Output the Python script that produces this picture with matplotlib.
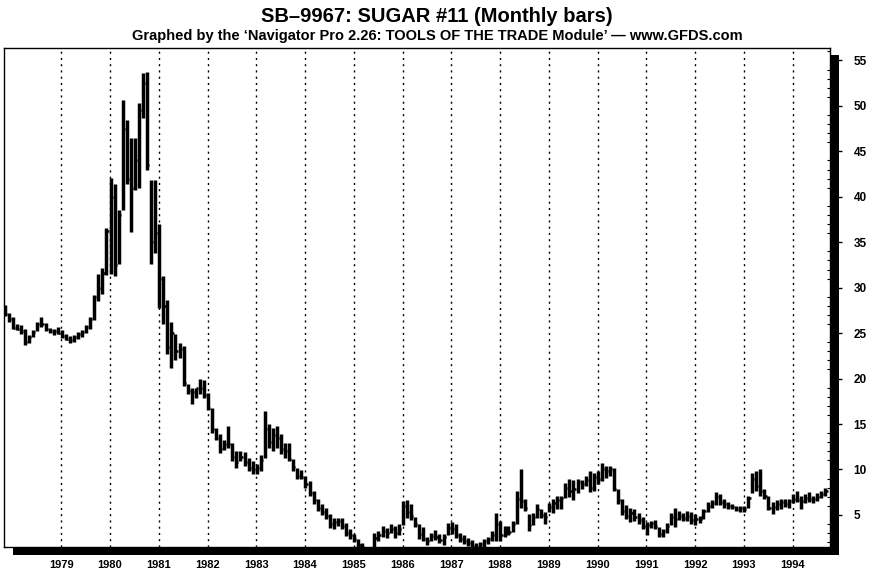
import matplotlib
matplotlib.use("Agg")
import matplotlib.pyplot as plt
import matplotlib.dates as mdates
from matplotlib.patches import Rectangle
import pandas as pd

FONT = ["Liberation Sans", "DejaVu Sans"]

# Monthly bars, Nov 1977 .. Sep 1994
first_month = "1977-11-01"

high = [
    28.1, 27.2, 26.8, 26.0, 25.9, 25.4, 24.8, 25.3, 26.2, 26.8, 26.1, 25.6, 25.5, 25.7,
    25.3, 24.9, 24.7, 24.8, 25.1, 25.3, 25.9, 26.8, 29.2, 31.5, 32.2, 36.6,
    42.1, 41.4, 38.5, 50.6, 48.4, 46.5, 46.5, 50.3, 53.6, 53.7, 41.8, 41.8,
    37.0, 31.3, 28.6, 26.2, 24.9, 23.9, 23.6, 19.4, 19.0, 19.0, 20.0, 19.8,
    18.4, 16.8, 14.6, 13.9, 13.2, 14.8, 12.9, 12.0, 12.0, 11.9, 11.3, 10.9,
    10.6, 11.6, 16.4, 15.0, 14.6, 14.8, 13.9, 12.9, 12.9, 11.1, 10.2, 9.9,
    9.3, 8.7, 7.6, 6.8, 6.2, 5.8, 5.1, 4.7, 4.7, 4.7, 4.1, 3.4,
    2.9, 2.4, 1.9, 1.5, 1.4, 3.0, 3.2, 3.8, 3.6, 4.0, 3.8, 4.0,
    6.5, 6.6, 6.2, 4.8, 4.0, 3.7, 2.6, 3.0, 3.3, 2.9, 2.9, 4.1,
    4.2, 4.0, 3.0, 2.8, 2.5, 2.2, 1.9, 2.0, 2.4, 2.6, 3.2, 5.2,
    4.3, 3.8, 3.8, 4.3, 7.6, 10.0, 6.8, 5.1, 5.2, 6.2, 5.6, 5.3,
    6.3, 6.8, 7.1, 7.1, 8.5, 8.9, 8.8, 8.9, 8.8, 9.3, 9.8, 9.6,
    9.8, 10.7, 10.4, 10.4, 10.2, 7.8, 6.8, 6.1, 5.8, 5.6, 5.2, 4.8,
    4.2, 4.3, 4.4, 3.7, 3.5, 4.1, 5.2, 5.8, 5.4, 5.2, 5.4, 5.3,
    5.1, 4.9, 5.6, 6.4, 6.6, 7.5, 7.3, 6.7, 6.4, 6.2, 6.0, 6.0,
    6.0, 7.1, 9.6, 9.8, 10.0, 7.8, 7.1, 6.4, 6.6, 6.8, 6.8, 6.8,
    7.3, 7.6, 7.1, 7.3, 7.5, 7.1, 7.4, 7.6, 8.0,
]

low = [
    26.9, 26.2, 25.4, 25.3, 24.9, 23.7, 23.9, 24.6, 25.2, 25.7, 25.2, 25.0, 24.8, 24.9,
    24.5, 24.2, 23.9, 24.0, 24.3, 24.6, 25.0, 25.5, 26.4, 28.5, 29.3, 31.4,
    31.5, 31.3, 32.6, 38.5, 41.4, 36.1, 40.7, 41.0, 48.7, 42.9, 32.6, 33.8,
    27.8, 26.0, 22.7, 21.2, 22.0, 22.3, 19.2, 18.3, 17.2, 17.9, 18.3, 17.9,
    16.5, 14.0, 13.2, 11.8, 12.1, 12.4, 10.9, 10.2, 10.9, 10.4, 9.8, 9.5,
    9.5, 9.8, 11.3, 12.4, 12.0, 12.4, 11.7, 11.3, 10.9, 9.8, 9.0, 8.9,
    8.0, 7.1, 6.2, 5.4, 5.0, 4.5, 3.6, 3.5, 3.8, 3.5, 2.7, 2.4,
    2.0, 1.4, 1.3, 1.2, 1.2, 1.3, 2.1, 2.6, 2.5, 3.0, 2.5, 2.8,
    3.9, 4.7, 4.4, 3.7, 2.4, 2.1, 1.7, 2.1, 2.2, 1.9, 1.7, 2.8,
    2.9, 2.5, 2.0, 1.8, 1.6, 1.4, 1.3, 1.2, 1.5, 1.8, 2.1, 2.1,
    2.1, 2.6, 2.8, 3.1, 4.0, 5.8, 5.4, 3.2, 3.9, 4.7, 4.7, 4.0,
    5.3, 5.2, 5.7, 5.6, 6.9, 7.0, 6.6, 7.4, 7.9, 8.2, 7.5, 7.6,
    8.4, 8.7, 9.1, 9.3, 7.6, 6.2, 5.0, 4.5, 4.2, 4.3, 4.0, 3.4,
    2.8, 3.6, 3.5, 2.6, 2.6, 3.0, 3.9, 3.7, 4.4, 4.3, 4.3, 4.0,
    3.9, 4.1, 4.5, 5.3, 5.8, 6.1, 6.1, 5.8, 5.7, 5.6, 5.4, 5.3,
    5.3, 5.8, 7.4, 7.6, 7.1, 6.8, 5.5, 5.1, 5.5, 5.7, 5.9, 5.8,
    6.3, 6.4, 5.7, 6.3, 6.4, 6.3, 6.5, 6.9, 7.1,
]

close = [
    27.1, 26.5, 25.6, 25.5, 25.2, 24.0, 24.6, 25.1, 26.0, 26.0, 25.5, 25.2, 25.2, 25.0,
    24.7, 24.3, 24.2, 24.6, 24.9, 25.1, 25.7, 26.5, 29.0, 30.0, 31.6, 36.2,
    40.0, 32.5, 38.0, 47.5, 42.0, 41.0, 44.0, 49.5, 52.5, 43.5, 35.0, 36.0,
    31.0, 28.0, 23.5, 25.0, 23.0, 23.2, 19.5, 18.6, 18.5, 19.0, 19.0, 18.2,
    16.8, 14.4, 13.5, 12.2, 12.8, 12.8, 11.4, 10.8, 11.4, 10.8, 10.2, 10.0,
    10.2, 11.0, 14.5, 13.0, 13.8, 13.5, 12.2, 12.0, 11.2, 10.3, 9.3, 9.2,
    8.4, 7.4, 6.6, 5.8, 5.3, 4.9, 4.0, 4.2, 4.3, 3.8, 3.0, 2.8,
    2.3, 1.7, 1.5, 1.3, 1.3, 2.5, 2.8, 3.2, 3.0, 3.5, 3.0, 3.4,
    6.0, 5.3, 4.9, 4.0, 2.9, 2.4, 2.1, 2.7, 2.6, 2.2, 2.6, 3.6,
    3.4, 2.8, 2.3, 2.1, 1.9, 1.6, 1.5, 1.8, 2.1, 2.3, 2.8, 4.0,
    2.8, 3.4, 3.1, 4.0, 6.8, 6.5, 5.8, 3.9, 4.8, 5.6, 5.0, 4.8,
    5.9, 6.3, 6.6, 6.9, 8.0, 7.6, 7.8, 8.6, 8.4, 8.8, 8.0, 9.2,
    9.0, 10.0, 9.8, 10.0, 7.9, 6.6, 5.4, 4.9, 5.2, 4.8, 4.4, 3.8,
    3.9, 4.1, 3.8, 2.9, 3.2, 3.8, 4.8, 4.6, 4.9, 4.7, 4.9, 4.4,
    4.6, 4.5, 5.4, 6.0, 6.3, 7.0, 6.4, 6.2, 6.0, 5.9, 5.6, 5.8,
    5.7, 6.9, 9.0, 8.2, 7.6, 7.1, 5.8, 5.9, 6.2, 6.4, 6.2, 6.5,
    6.8, 6.6, 6.5, 6.9, 6.8, 6.7, 7.0, 7.3, 7.6,
]

years = list(range(1979, 1995))
price_ticks = [5, 10, 15, 20, 25, 30, 35, 40, 45, 50, 55]

title = "SB\u20139967: SUGAR #11 (Monthly bars)"
subtitle = ("Graphed by the \u2018Navigator Pro 2.26: TOOLS OF THE TRADE Module\u2019"
            " \u2014 www.GFDS.com")

months = pd.date_range(first_month, periods=len(high), freq="MS") + pd.Timedelta(days=3)
x = mdates.date2num(months)
tick_len = 16  # days, close tick to the right

fig = plt.figure(figsize=(8.74, 5.76), dpi=100)
ax = fig.add_axes([0.00458, 0.05035, 0.94508, 0.86632])

# year grid
year_pos = mdates.date2num(pd.to_datetime([f"{y}-01-01" for y in years]))
for xp in year_pos:
    ax.axvline(xp, color="black", lw=1.0, ls=(0, (1.5, 3.0)), zorder=1)

ax.vlines(x, low, high, color="black", lw=2.5, zorder=3)
ax.hlines(close, x, x + tick_len, color="black", lw=1.8, zorder=3)

ax.set_xlim(mdates.date2num(pd.Timestamp("1977-10-28")),
            mdates.date2num(pd.Timestamp("1994-10-08")))
ax.set_ylim(1.47, 56.37)

ax.set_xticks(year_pos)
ax.set_xticklabels([str(y) for y in years], fontsize=8, fontweight="bold",
                   family=FONT)
ax.tick_params(axis="x", length=0, pad=9.5)

ax.yaxis.tick_right()
ax.set_yticks(price_ticks)
ax.set_yticklabels([str(v) for v in price_ticks], fontsize=8.5, fontweight="bold",
                   family=FONT)
ax.set_yticks(range(2, 57), minor=True)
ax.tick_params(axis="y", which="major", direction="out", length=8.6, width=1,
               pad=8.4, right=True, left=False)
ax.tick_params(axis="y", which="minor", direction="in", length=2.5, width=0.8,
               right=True, left=False)

for s in ax.spines.values():
    s.set_linewidth(1.0)
    s.set_color("black")

# heavy drop shadow along right and bottom edges
W, H = 874.0, 576.0
fig.add_artist(Rectangle((831 / W, 1 - 555 / H), 8 / W, 500 / H,
                         transform=fig.transFigure, color="black", lw=0, zorder=5))
fig.add_artist(Rectangle((13 / W, 1 - 555 / H), 826 / W, 7.5 / H,
                         transform=fig.transFigure, color="black", lw=0, zorder=5))

fig.text(0.5, 1 - 17 / H, title, ha="center", va="center", fontsize=14.5,
         fontweight="bold", family=FONT)
fig.text(0.5, 1 - 36 / H, subtitle, ha="center", va="center", fontsize=10.5,
         fontweight="bold", family=FONT)

fig.savefig("out.png", dpi=100)
plt.close(fig)
